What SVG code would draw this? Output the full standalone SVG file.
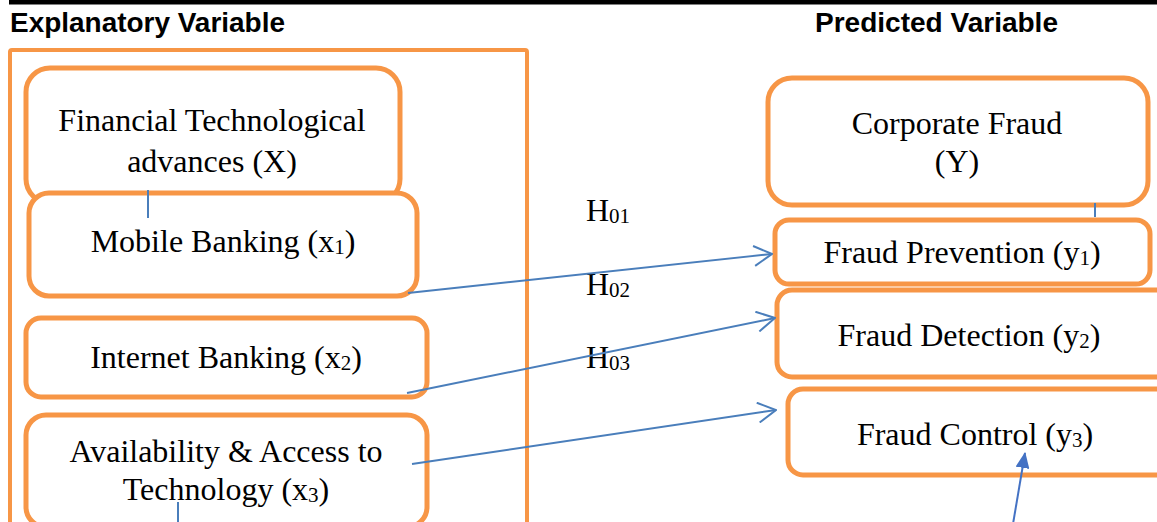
<svg xmlns="http://www.w3.org/2000/svg" width="1157" height="522" viewBox="0 0 1157 522">
<style>
.box{fill:#fff;stroke:#F79646;stroke-width:5}
.outer{fill:none;stroke:#F79646;stroke-width:4}
.t{font-family:"Liberation Serif","Times New Roman",serif;font-size:32px;fill:#000;text-anchor:middle}
.h{font-family:"Liberation Serif","Times New Roman",serif;font-size:32px;fill:#000}
.hd{font-family:"Liberation Sans",Arial,sans-serif;font-size:27px;font-weight:bold;fill:#000}
.c{stroke:#4A7EBB;stroke-width:2;fill:none}
.sub{font-size:21px}
</style>
<defs>
<marker id="open" viewBox="0 0 20 22" refX="19" refY="11" markerWidth="20" markerHeight="22" markerUnits="userSpaceOnUse" orient="auto">
<path d="M1,1 L19,11 L1,21" fill="none" stroke="#4A7EBB" stroke-width="2"/>
</marker>
<marker id="solid" viewBox="0 0 16 14" refX="15" refY="7" markerWidth="16" markerHeight="14" markerUnits="userSpaceOnUse" orient="auto">
<path d="M0,0 L16,7 L0,14 Z" fill="#4472C4"/>
</marker>
</defs>
<rect x="9" y="0" width="1148" height="4.5" fill="#000"/>
<text class="hd" x="10" y="31.5" textLength="275" lengthAdjust="spacingAndGlyphs">Explanatory Variable</text>
<text class="hd" x="815" y="31.5" textLength="243" lengthAdjust="spacingAndGlyphs">Predicted Variable</text>
<g id="explanatory-group">
<rect class="outer" x="10" y="50" width="517" height="490" rx="2"/>
</g>
<g id="fintech">
<rect class="box" x="26" y="68" width="374" height="135" rx="24"/>
<text class="t" x="212" y="131">Financial Technological</text>
<text class="t" x="212" y="172">advances (X)</text>
</g>
<g id="mobile">
<rect class="box" x="29" y="193" width="388" height="103" rx="20"/>
<text class="t" x="223" y="252">Mobile Banking (x<tspan class="sub" dy="2">1</tspan><tspan dy="-2">)</tspan></text>
</g>
<g id="internet">
<rect class="box" x="26" y="318" width="401" height="79" rx="15"/>
<text class="t" x="226" y="368">Internet Banking (x<tspan class="sub" dy="2">2</tspan><tspan dy="-2">)</tspan></text>
</g>
<g id="availability">
<rect class="box" x="26" y="415" width="401" height="112" rx="20"/>
<text class="t" x="226" y="462">Availability &amp; Access to</text>
<text class="t" x="226" y="500">Technology (x<tspan class="sub" dy="2">3</tspan><tspan dy="-2">)</tspan></text>
</g>
<g id="hypotheses">
<text class="h" x="586" y="221">H<tspan class="sub" dy="2">01</tspan></text>
<text class="h" x="586" y="295">H<tspan class="sub" dy="2">02</tspan></text>
<text class="h" x="586" y="368">H<tspan class="sub" dy="2">03</tspan></text>
</g>
<g id="corporate">
<rect class="box" x="768" y="78" width="380" height="127" rx="24"/>
<text class="t" x="957" y="134">Corporate Fraud</text>
<text class="t" x="957" y="172">(Y)</text>
</g>
<g id="prevention">
<rect class="box" x="775" y="220" width="375" height="64" rx="14"/>
<text class="t" x="962" y="263">Fraud Prevention (y<tspan class="sub" dy="2">1</tspan><tspan dy="-2">)</tspan></text>
</g>
<g id="detection">
<rect class="box" x="777" y="290" width="395" height="87" rx="15"/>
<text class="t" x="969" y="346">Fraud Detection (y<tspan class="sub" dy="2">2</tspan><tspan dy="-2">)</tspan></text>
</g>
<g id="control">
<rect class="box" x="788" y="389" width="385" height="86" rx="15"/>
<text class="t" x="975" y="445">Fraud Control (y<tspan class="sub" dy="2">3</tspan><tspan dy="-2">)</tspan></text>
</g>
<g id="connectors">
<line class="c" x1="148" y1="190" x2="148" y2="218"/>
<line class="c" x1="178" y1="502" x2="178" y2="522"/>
<line class="c" x1="1095" y1="203" x2="1095" y2="217"/>
<line class="c" x1="408" y1="293" x2="772" y2="254" marker-end="url(#open)"/>
<line class="c" x1="407" y1="393" x2="775" y2="318" marker-end="url(#open)"/>
<line class="c" x1="412" y1="464" x2="776" y2="410" marker-end="url(#open)"/>
<line x1="1013" y1="524" x2="1025" y2="453" stroke="#4472C4" stroke-width="2" marker-end="url(#solid)"/>
</g>
</svg>
